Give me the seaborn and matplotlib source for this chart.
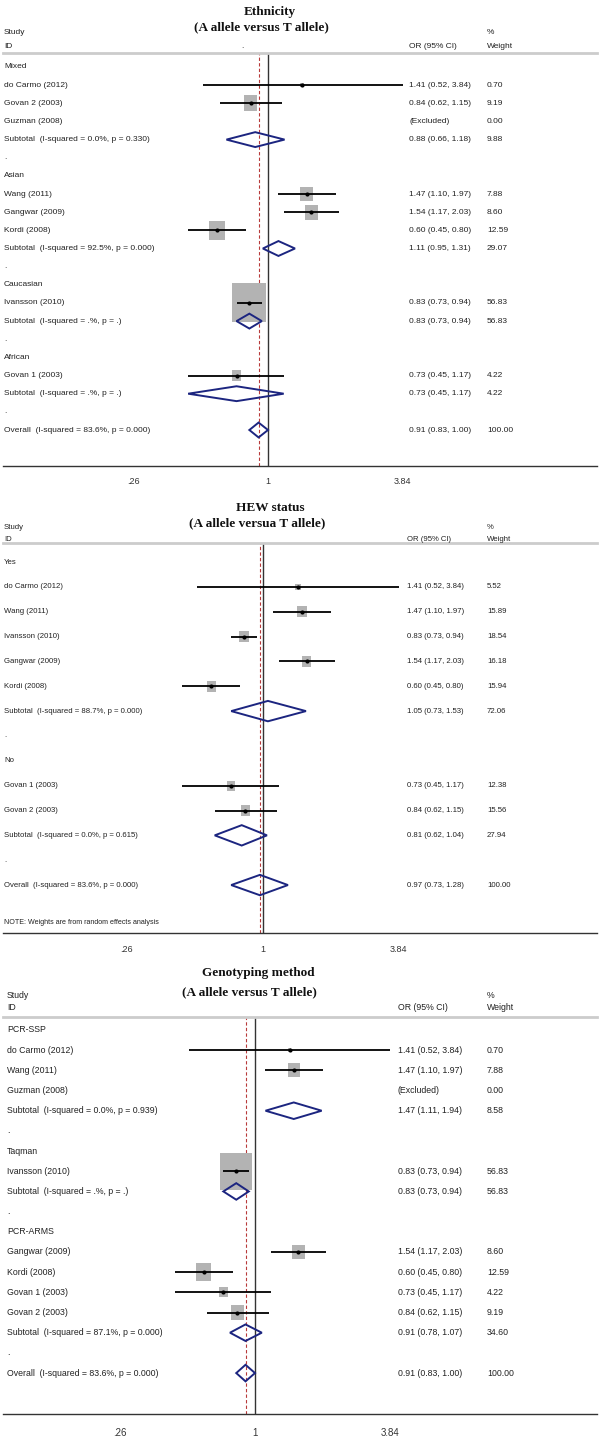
import math

import matplotlib
matplotlib.use("Agg")
import matplotlib.pyplot as plt
from matplotlib.ticker import NullLocator
import seaborn as sns

# ---------------- data ----------------
# kinds: g = group heading, s = study, x = excluded study, d = subtotal,
#        b = blank spacer ("."), o = overall
ETH_LABELS = ["Mixed", "do Carmo (2012)", "Govan 2 (2003)", "Guzman (2008)",
              "Subtotal  (I-squared = 0.0%, p = 0.330)", ".",
              "Asian", "Wang (2011)", "Gangwar (2009)", "Kordi (2008)",
              "Subtotal  (I-squared = 92.5%, p = 0.000)", ".",
              "Caucasian", "Ivansson (2010)", "Subtotal  (I-squared = .%, p = .)", ".",
              "African", "Govan 1 (2003)", "Subtotal  (I-squared = .%, p = .)", ".",
              "Overall  (I-squared = 83.6%, p = 0.000)"]
ETH_KINDS = ["g", "s", "s", "x", "d", "b", "g", "s", "s", "s", "d", "b",
             "g", "s", "d", "b", "g", "s", "d", "b", "o"]
ETH_OR = [None, 1.41, 0.84, None, 0.88, None, None, 1.47, 1.54, 0.60, 1.11, None,
          None, 0.83, 0.83, None, None, 0.73, 0.73, None, 0.91]
ETH_LO = [None, 0.52, 0.62, None, 0.66, None, None, 1.10, 1.17, 0.45, 0.95, None,
          None, 0.73, 0.73, None, None, 0.45, 0.45, None, 0.83]
ETH_HI = [None, 3.84, 1.15, None, 1.18, None, None, 1.97, 2.03, 0.80, 1.31, None,
          None, 0.94, 0.94, None, None, 1.17, 1.17, None, 1.00]
ETH_WT = [None, 0.70, 9.19, 0.00, 9.88, None, None, 7.88, 8.60, 12.59, 29.07, None,
          None, 56.83, 56.83, None, None, 4.22, 4.22, None, 100.00]

HEW_LABELS = ["Yes", "do Carmo (2012)", "Wang (2011)", "Ivansson (2010)",
              "Gangwar (2009)", "Kordi (2008)",
              "Subtotal  (I-squared = 88.7%, p = 0.000)", ".",
              "No", "Govan 1 (2003)", "Govan 2 (2003)",
              "Subtotal  (I-squared = 0.0%, p = 0.615)", ".",
              "Overall  (I-squared = 83.6%, p = 0.000)"]
HEW_KINDS = ["g", "s", "s", "s", "s", "s", "d", "b", "g", "s", "s", "d", "b", "o"]
HEW_OR = [None, 1.41, 1.47, 0.83, 1.54, 0.60, 1.05, None, None, 0.73, 0.84, 0.81, None, 0.97]
HEW_LO = [None, 0.52, 1.10, 0.73, 1.17, 0.45, 0.73, None, None, 0.45, 0.62, 0.62, None, 0.73]
HEW_HI = [None, 3.84, 1.97, 0.94, 2.03, 0.80, 1.53, None, None, 1.17, 1.15, 1.04, None, 1.28]
HEW_WT = [None, 5.52, 15.89, 18.54, 16.18, 15.94, 72.06, None, None, 12.38, 15.56, 27.94,
          None, 100.00]

GEN_LABELS = ["PCR-SSP", "do Carmo (2012)", "Wang (2011)", "Guzman (2008)",
              "Subtotal  (I-squared = 0.0%, p = 0.939)", ".",
              "Taqman", "Ivansson (2010)", "Subtotal  (I-squared = .%, p = .)", ".",
              "PCR-ARMS", "Gangwar (2009)", "Kordi (2008)", "Govan 1 (2003)", "Govan 2 (2003)",
              "Subtotal  (I-squared = 87.1%, p = 0.000)", ".",
              "Overall  (I-squared = 83.6%, p = 0.000)"]
GEN_KINDS = ["g", "s", "s", "x", "d", "b", "g", "s", "d", "b",
             "g", "s", "s", "s", "s", "d", "b", "o"]
GEN_OR = [None, 1.41, 1.47, None, 1.47, None, None, 0.83, 0.83, None,
          None, 1.54, 0.60, 0.73, 0.84, 0.91, None, 0.91]
GEN_LO = [None, 0.52, 1.10, None, 1.11, None, None, 0.73, 0.73, None,
          None, 1.17, 0.45, 0.45, 0.62, 0.78, None, 0.83]
GEN_HI = [None, 3.84, 1.97, None, 1.94, None, None, 0.94, 0.94, None,
          None, 2.03, 0.80, 1.17, 1.15, 1.07, None, 1.00]
GEN_WT = [None, 0.70, 7.88, 0.00, 8.58, None, None, 56.83, 56.83, None,
          None, 8.60, 12.59, 4.22, 9.19, 34.60, None, 100.00]

TICKS = [0.26, 1, 3.84]
TICK_LABELS = [".26", "1", "3.84"]

# ---------------- style ----------------
W, H = 600, 1440
L_PX, R_PX = 3, 597
NAVY = "#1c2580"
BOX_GREY = "#b3b3b3"
TEXT = "#222222"
SANS = ["Liberation Sans", "DejaVu Sans"]
SERIF = ["Liberation Serif", "DejaVu Serif"]

sns.set_style("white")
plt.rcParams["font.family"] = SANS

fig = plt.figure(figsize=(6, 14.4), dpi=100)


def draw_panel(g, title, subtitle, labels, kinds, ors, los, his, wts, note=None):
    header, axis_y, row0, step = g["header"], g["axis"], g["row0"], g["step"]
    c, scale = g["c"], g["scale"]

    ax = fig.add_axes([L_PX / W, 1 - axis_y / H, (R_PX - L_PX) / W, (axis_y - header) / H])
    ax.set_xscale("log")
    ax.set_xlim(math.exp((L_PX - c) / scale), math.exp((R_PX - c) / scale))
    ax.set_ylim((axis_y - row0) / step, (header - row0) / step)

    def ry(px):
        return (px - row0) / step

    def fx(px):
        return (px - L_PX) / (R_PX - L_PX)

    tr = ax.get_yaxis_transform()
    fs = g["fs"]

    # reference lines
    overall = ors[kinds.index("o")]
    ax.axvline(1, color="#333333", lw=1.0, zorder=1)
    ax.axvline(overall, color="#b83a3a", lw=0.8, ls=(0, (3, 2)), zorder=1)

    # study boxes, CIs and points
    st = [i for i, k in enumerate(kinds) if k == "s"]
    box_px = [g["box_k"] * math.sqrt(wts[i]) * 1.15 for i in st]
    rect = [(-0.87, -1), (0.87, -1), (0.87, 1), (-0.87, 1), (-0.87, -1)]
    ax.scatter([ors[i] for i in st], st, s=[(p * 0.72) ** 2 for p in box_px],
               marker=rect, color=BOX_GREY, linewidths=0, zorder=2)
    ax.hlines(st, [los[i] for i in st], [his[i] for i in st], color="black", lw=1.3, zorder=3)
    sns.scatterplot(x=[ors[i] for i in st], y=st, color="black", s=9, linewidth=0,
                    ax=ax, zorder=4, legend=False)

    # pooled diamonds
    for i, k in enumerate(kinds):
        if k in ("d", "o"):
            ax.fill([los[i], ors[i], his[i], ors[i], los[i]],
                    [i, i - 0.41, i, i + 0.41, i], fill=False,
                    edgecolor=NAVY, lw=1.4, zorder=5)

    # text columns
    for i, (lab, k) in enumerate(zip(labels, kinds)):
        ax.text(fx(g["lab_x"]), i, lab, transform=tr, ha="left", va="center",
                fontsize=fs, color=TEXT)
        if k in ("s", "d", "o"):
            ax.text(fx(g["or_x"]), i, f"{ors[i]:.2f} ({los[i]:.2f}, {his[i]:.2f})",
                    transform=tr, ha="left", va="center", fontsize=fs, color=TEXT)
        elif k == "x":
            ax.text(fx(g["or_x"]), i, "(Excluded)", transform=tr, ha="left",
                    va="center", fontsize=fs, color=TEXT)
        if k in ("s", "d", "o", "x"):
            ax.text(fx(g["wt_x"]), i, f"{wts[i]:.2f}", transform=tr, ha="left",
                    va="center", fontsize=fs, color=TEXT)

    if note:
        ax.text(fx(g["lab_x"]), ry(g["note_y"]), note, transform=tr, ha="left",
                va="center", fontsize=fs * 0.92, color=TEXT)

    # header
    ax.text(fx(g["title_x"]), ry(g["title_y"]), title, transform=tr, ha="center",
            va="center", fontsize=g["tfs"], fontweight="bold", family=SERIF, color="#111111")
    ax.text(fx(g["sub_x"]), ry(g["sub_y"]), subtitle, transform=tr, ha="center",
            va="center", fontsize=g["tfs"], fontweight="bold", family=SERIF, color="#111111")
    ax.text(fx(g["lab_x"]), ry(g["h1"]), "Study", transform=tr, ha="left", va="center",
            fontsize=fs, color=TEXT)
    ax.text(fx(g["lab_x"]), ry(g["h2"]), "ID", transform=tr, ha="left", va="center",
            fontsize=fs, color=TEXT)
    ax.text(fx(g["or_x"]), ry(g["h2"]), "OR (95% CI)", transform=tr, ha="left",
            va="center", fontsize=fs, color=TEXT)
    ax.text(fx(g["wt_x"]), ry(g["h1"]), "%", transform=tr, ha="left", va="center",
            fontsize=fs, color=TEXT)
    ax.text(fx(g["wt_x"]), ry(g["h2"]), "Weight", transform=tr, ha="left", va="center",
            fontsize=fs, color=TEXT)
    if g.get("dot"):
        ax.text(fx(g["dot"][0]), ry(g["dot"][1]), ".", transform=tr, ha="center",
                va="center", fontsize=fs, color=TEXT)

    # axes
    ax.set_yticks([])
    ax.set_xticks(TICKS)
    ax.set_xticklabels(TICK_LABELS)
    ax.xaxis.set_minor_locator(NullLocator())
    ax.tick_params(axis="x", direction="out", length=5, width=1, colors="#333333",
                   labelsize=g["xfs"], pad=g["pad"])
    for side in ("left", "right"):
        ax.spines[side].set_visible(False)
    ax.spines["top"].set_color("#cccccc")
    ax.spines["top"].set_linewidth(2)
    ax.spines["bottom"].set_color("#333333")
    ax.spines["bottom"].set_linewidth(1)
    return ax


G1 = dict(header=53, axis=466, row0=67, step=18.15, c=268, scale=100,
          lab_x=4, or_x=409, wt_x=487, fs=6.0, tfs=9.5, box_k=4.5, xfs=6.5, pad=3,
          title_x=270, sub_x=261, title_y=12, sub_y=27, h1=33, h2=47, dot=(242, 46))
G2 = dict(header=543, axis=933, row0=562, step=24.85, c=263, scale=101,
          lab_x=4, or_x=407, wt_x=487, fs=5.6, tfs=9.5, box_k=2.4, xfs=6.5, pad=4,
          title_x=270, sub_x=257, title_y=508, sub_y=523, h1=527, h2=539, note_y=922)
G3 = dict(header=1017, axis=1414, row0=1030, step=20.18, c=255, scale=100.6,
          lab_x=7, or_x=398, wt_x=487, fs=6.3, tfs=9.5, box_k=4.3, xfs=7, pad=5,
          title_x=258, sub_x=249, title_y=973, sub_y=992, h1=996, h2=1008)

draw_panel(G1, "Ethnicity", "(A allele versus T allele)",
           ETH_LABELS, ETH_KINDS, ETH_OR, ETH_LO, ETH_HI, ETH_WT)
draw_panel(G2, "HEW status", "(A allele versua T allele)",
           HEW_LABELS, HEW_KINDS, HEW_OR, HEW_LO, HEW_HI, HEW_WT,
           note="NOTE: Weights are from random effects analysis")
draw_panel(G3, "Genotyping method", "(A allele versus T allele)",
           GEN_LABELS, GEN_KINDS, GEN_OR, GEN_LO, GEN_HI, GEN_WT)

fig.savefig("out.png", dpi=100, facecolor="white")
plt.close(fig)
